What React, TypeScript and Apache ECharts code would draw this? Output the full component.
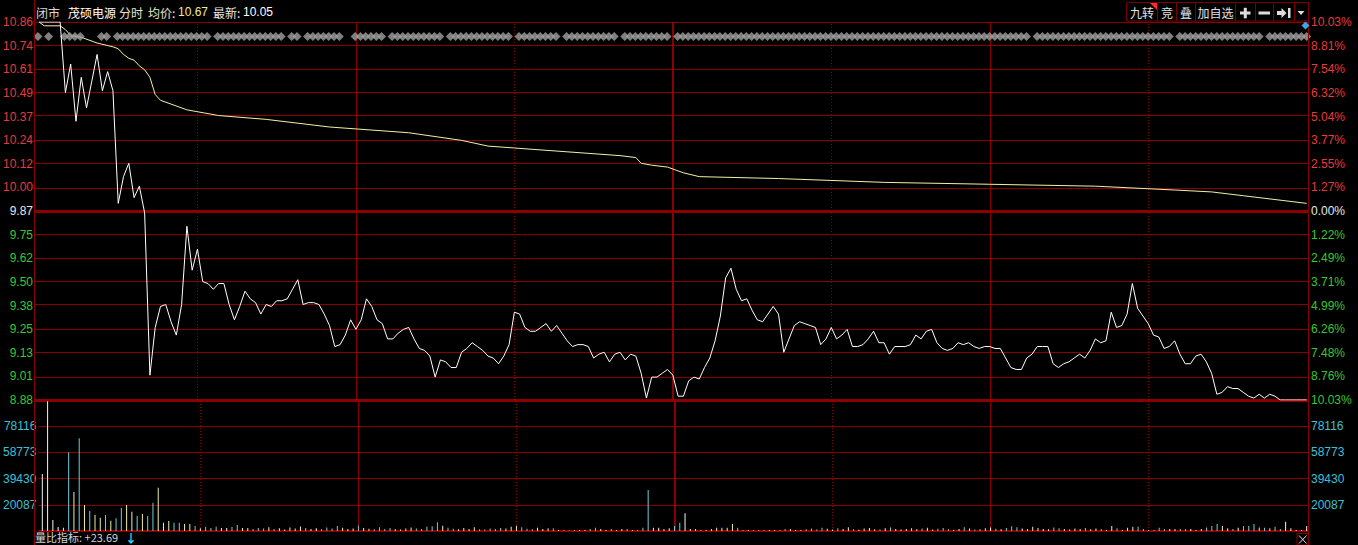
import React, { useEffect, useRef } from "react";
import * as echarts from "echarts";

// ---------------- data ----------------
const prevClose = 9.87;
const priceMin = 8.88;
const priceMax = 10.86;
const priceTickLabels = ["8.88", "9.01", "9.13", "9.25", "9.38", "9.50", "9.62", "9.75", "9.87", "10.00", "10.12", "10.24", "10.37", "10.49", "10.61", "10.74", "10.86"];
const pctTickLabels = ["10.03%", "8.76%", "7.48%", "6.26%", "4.99%", "3.71%", "2.49%", "1.22%", "0.00%", "1.27%", "2.55%", "3.77%", "5.04%", "6.32%", "7.54%", "8.81%", "10.03%"];
const volMin = 744;
const volMax = 97459;
const volTickValues = [20087, 39430, 58773, 78116];
const halfHourMarks = [30, 90, 150, 210];
const hourMarks = [60, 180];
const middayMark = 120;

const prices = [
  10.86, 10.86, 10.86, 10.86, 10.86, 10.49, 10.64, 10.34, 10.57, 10.41,
  10.55, 10.69, 10.5, 10.6, 10.5, 9.91, 10.05, 10.12, 9.94, 10.0,
  9.86, 9.01, 9.26, 9.37, 9.38, 9.29, 9.22, 9.38, 9.79, 9.56,
  9.67, 9.5, 9.49, 9.46, 9.49, 9.49, 9.38, 9.3, 9.37, 9.45,
  9.41, 9.39, 9.33, 9.38, 9.37, 9.4, 9.4, 9.41, 9.46, 9.51,
  9.38, 9.39, 9.39, 9.38, 9.33, 9.27, 9.16, 9.17, 9.22, 9.3,
  9.25, 9.3, 9.41, 9.37, 9.3, 9.28, 9.2, 9.2, 9.23, 9.25,
  9.26, 9.2, 9.15, 9.14, 9.11, 9.0, 9.09, 9.08, 9.05, 9.05,
  9.13, 9.15, 9.18, 9.16, 9.14, 9.11, 9.1, 9.07, 9.11, 9.17,
  9.34, 9.33, 9.26, 9.24, 9.24, 9.26, 9.28, 9.24, 9.27, 9.23,
  9.19, 9.16, 9.17, 9.17, 9.16, 9.1, 9.12, 9.13, 9.08, 9.12,
  9.13, 9.09, 9.12, 9.11, 9.02, 8.89, 9.0, 9.0, 9.02, 9.04,
  9.01, 8.9, 8.9, 8.98, 9.0, 8.99, 9.05, 9.1, 9.19, 9.32,
  9.52, 9.57, 9.46, 9.4, 9.41, 9.35, 9.3, 9.29, 9.33, 9.37,
  9.33, 9.13, 9.2, 9.27, 9.29, 9.28, 9.27, 9.26, 9.17, 9.2,
  9.26, 9.2, 9.22, 9.25, 9.16, 9.16, 9.17, 9.2, 9.24, 9.18,
  9.18, 9.12, 9.16, 9.16, 9.16, 9.17, 9.22, 9.2, 9.24, 9.25,
  9.18, 9.15, 9.14, 9.15, 9.18, 9.17, 9.18, 9.16, 9.15, 9.16,
  9.16, 9.15, 9.15, 9.1, 9.05, 9.04, 9.04, 9.1, 9.12, 9.16,
  9.16, 9.16, 9.07, 9.05, 9.07, 9.08, 9.1, 9.12, 9.1, 9.14,
  9.2, 9.18, 9.19, 9.34, 9.26, 9.27, 9.33, 9.49, 9.36, 9.32,
  9.28, 9.22, 9.21, 9.15, 9.16, 9.19, 9.12, 9.07, 9.07, 9.11,
  9.12, 9.08, 9.02, 8.91, 8.92, 8.95, 8.94, 8.94, 8.92, 8.9,
  8.89, 8.91, 8.89, 8.91, 8.9, 8.88, 8.88, 8.88, 8.88, 8.88,
  8.88,
];

const avgMinutes = [0, 1, 4, 5, 6, 8, 11, 14, 15, 16, 17, 18, 19, 20, 21, 22, 23, 25, 28, 34, 43, 55, 70, 80, 85, 90, 100, 110, 113, 114, 116, 119, 122, 125, 140, 160, 180, 200, 215, 222, 228, 234, 240];
const avgPrices = [10.86, 10.84, 10.84, 10.82, 10.79, 10.78, 10.75, 10.73, 10.72, 10.69, 10.67, 10.66, 10.63, 10.61, 10.57, 10.48, 10.45, 10.43, 10.4, 10.37, 10.35, 10.31, 10.28, 10.24, 10.21, 10.2, 10.18, 10.16, 10.15, 10.12, 10.11, 10.1, 10.07, 10.05, 10.04, 10.02, 10.01, 10.0, 9.98, 9.97, 9.95, 9.93, 9.91];

const volumes = [
  42800, 96500, 8900, 3700, 3200, 58900, 29500, 69200, 20000, 15500,
  12600, 10600, 12600, 8400, 10100, 18000, 19900, 15000, 11800, 13300,
  11800, 21600, 32700, 6900, 8100, 6900, 6900, 5900, 5900, 4400,
  2700, 3900, 3000, 3900, 3000, 3000, 3700, 5200, 3000, 3000,
  2200, 3000, 2500, 3600, 2200, 2800, 1900, 3300, 2600, 4100,
  3000, 2200, 2800, 2000, 3400, 2500, 4400, 3100, 2200, 2600,
  4800, 3000, 2400, 2100, 3600, 2200, 2900, 2000, 1800, 2500,
  3300, 2600, 2200, 3900, 4300, 7200, 4600, 3100, 2400, 2000,
  2900, 2300, 3500, 2100, 1900, 2600, 2200, 3000, 2500, 3800,
  4700, 3600, 2400, 2000, 3100, 2200, 2700, 2700, 1500, 1500,
  1200, 1500, 1500, 1500, 2200, 3200, 2200, 1500, 2200, 1500,
  2200, 2200, 1500, 1500, 3200, 31000, 3200, 3200, 2200, 2700,
  4400, 6900, 13800, 2200, 2200, 1500, 1500, 2200, 3200, 3200,
  3200, 5900, 3200, 1500, 1500, 1500, 1500, 1500, 1500, 1500,
  1500, 2200, 2200, 1500, 1500, 2000, 2600, 1800, 3200, 2400,
  1900, 2800, 2200, 3500, 2000, 1700, 2500, 3000, 2100, 1800,
  2700, 3400, 2200, 1900, 2300, 2800, 2000, 2600, 3100, 1800,
  2400, 2900, 2100, 1700, 2300, 3600, 2500, 1900, 2200, 2800,
  3300, 2400, 2000, 3000, 4200, 3500, 2600, 2200, 3800, 2900,
  2300, 2000, 3400, 2700, 2200, 1900, 2600, 2300, 3000, 2100,
  2500, 2200, 1500, 4400, 2700, 1500, 3200, 3900, 3900, 2200,
  1500, 1500, 3200, 2200, 2200, 2200, 2200, 2200, 2200, 1500,
  2200, 3400, 4400, 5900, 4400, 2700, 2200, 3200, 4400, 4400,
  5900, 3400, 3200, 2700, 3900, 2200, 7600, 2700, 1500, 1500,
  4400,
];

const diamondMinutes = [
  0, 2, 5, 6, 7, 8, 12, 13, 15, 16, 17, 18, 19, 20, 21, 22, 23, 24, 25, 26, 27, 28, 29, 30, 31, 32,
  34, 35, 36, 37, 38, 39, 40, 41, 42, 43, 44, 45, 46, 48, 49, 51, 52, 53, 54, 55, 56, 57,
  60, 61, 62, 63, 64, 65, 67, 68, 69, 70, 71, 72, 73, 74, 75, 76, 78, 79, 80, 81, 82, 83, 84, 85, 86, 87, 88, 89,
  91, 92, 93, 94, 95, 96, 97, 98, 100, 101, 102, 103, 104, 105, 106, 107, 108, 109, 111, 112, 113, 114, 115, 116, 117, 118, 119,
  121, 122, 123, 124, 125, 126, 127, 128, 129, 130, 131, 132, 133, 134, 135, 136, 137, 138, 139, 140, 141, 142, 143, 144, 145,
  146, 147, 148, 149, 150, 151, 152, 153, 154, 155, 156, 157, 158, 159, 160, 161, 162, 163, 164, 165, 166, 167, 168, 169, 170,
  171, 172, 173, 174, 175, 176, 177, 178, 179, 180, 181, 182, 183, 184, 185, 186, 187, 189, 190, 191, 192, 193, 194, 195, 196,
  197, 198, 199, 200, 201, 202, 203, 204, 205, 206, 207, 208, 209, 210, 211, 212, 213, 214, 216, 217, 218, 219, 220, 221, 222,
  223, 224, 225, 226, 227, 228, 229, 230, 231, 233, 234, 235, 236, 237, 238, 239, 240,
];

const headerTexts = ["闭市", "茂硕电源", "分时", "均价:", "10.67", "最新:", "10.05"];
const buttonLabels = ["九转", "竞", "叠", "加自选"];
const footerLabel = "量比指标: +23.69";
const footerArrow = "↓";

// ---------------- style ----------------
const RED = "#e83a3a";
const GREEN = "#34c834";
const WHITE = "#e8e8e8";
const CYAN = "#3cc0d6";
const GRID = "#880000";
const GRID_THICK = "#8c0000";
const FONT = '"Liberation Sans", Arial, "Noto Sans CJK SC", sans-serif';
const CJK = '"Noto Sans CJK SC", "Liberation Sans", sans-serif';

const X_MIN = -0.75;
const X_MAX = 240.25;
const GL = 34;
const GR = 50;

export default function App() {
  const ref = useRef<HTMLDivElement>(null);

  useEffect(() => {
    document.body.style.margin = "0";
    document.body.style.background = "#000";
    const chart = echarts.init(ref.current!, null, { renderer: "svg" });

    const step = (priceMax - priceMin) / 16;
    const priceTickValues = priceTickLabels.map((_, k) => priceMin + k * step);
    const idx = (v: any) => Math.round((Number(v) - priceMin) / step);
    const sideColor = (k: number) => (k < 8 ? GREEN : k > 8 ? RED : WHITE);

    const priceData = prices.map((p, i) => [i, p]);
    const avgData = avgMinutes.map((m, j) => [m, avgPrices[j]]);
    const barData = volumes.map((v, i) => {
      let c = "#f4f4f4";
      if (i > 0 && prices[i] > prices[i - 1]) c = "#eeeea4";
      else if (i > 0 && prices[i] < prices[i - 1]) c = "#6ccfdc";
      return { value: [i, v], itemStyle: { color: c } };
    });

    const vLines = [
      ...halfHourMarks.map((m) => ({ xAxis: m, lineStyle: { color: GRID, width: 1, type: [1, 2] } })),
      ...hourMarks.map((m) => ({ xAxis: m, lineStyle: { color: GRID, width: 1, type: "solid" } })),
      { xAxis: middayMark, lineStyle: { color: GRID_THICK, width: 2, type: "solid" } },
    ];

    const priceLines = priceTickValues.map((v, k) => ({
      yAxis: v,
      lineStyle: { color: k === 0 || k === 8 ? GRID_THICK : GRID, width: k === 0 || k === 8 ? 3 : 1, type: "solid" },
    }));
    const volLines = [
      ...volTickValues.map((v) => ({ yAxis: v, lineStyle: { color: GRID, width: 1, type: "solid" } })),
      { yAxis: volMin, lineStyle: { color: GRID_THICK, width: 2, type: "solid" } },
    ];

    const markBase = {
      silent: true,
      z: 1,
      symbol: ["none", "none"],
      label: { show: false },
      emphasis: { disabled: true },
      animation: false,
    };

    const xAxisBase = { type: "value", min: X_MIN, max: X_MAX, show: false };
    const labelBase = { fontSize: 12, fontFamily: FONT };

    const graphic: any[] = [];
    // borders
    graphic.push({ type: "line", shape: { x1: 34.5, y1: 0, x2: 34.5, y2: 545 }, style: { stroke: GRID, lineWidth: 1 }, z: 10 });
    graphic.push({ type: "line", shape: { x1: 1308.5, y1: 2, x2: 1308.5, y2: 545 }, style: { stroke: GRID, lineWidth: 1 }, z: 10 });

    // header
    const headerX = [36, 68, 119, 148, 178, 213, 243];
    const headerColors = ["#d8d8d8", "#ffffff", "#e6e6c8", "#e6e6d2", "#ecec9a", "#e8e8e8", "#ffffff"];
    headerTexts.forEach((t, j) => {
      graphic.push({
        type: "text",
        x: headerX[j],
        y: 12,
        z: 20,
        style: { text: t, fill: headerColors[j], font: `12px ${/[0-9]/.test(t) ? FONT : CJK}`, textVerticalAlign: "middle", verticalAlign: "middle" },
      });
    });

    // buttons
    const btnBoxes = [
      [1126, 31], [1157, 19], [1176, 19], [1195, 40], [1235, 20], [1255, 18], [1273, 21], [1294, 14],
    ];
    btnBoxes.forEach(([bx, bw]) => {
      graphic.push({ type: "rect", shape: { x: bx + 0.5, y: 2.5, width: bw, height: 18.5 }, style: { fill: "#000", stroke: "#7a0000", lineWidth: 1 }, z: 15 });
    });
    buttonLabels.forEach((t, j) => {
      const [bx, bw] = btnBoxes[j];
      graphic.push({
        type: "text",
        x: bx + bw / 2 + 0.5,
        y: 12,
        z: 20,
        style: { text: t, fill: "#e0e0e0", font: `12px ${CJK}`, textAlign: "center", align: "center", textVerticalAlign: "middle", verticalAlign: "middle" },
      });
    });
    // red corner triangle on first button
    graphic.push({ type: "polygon", shape: { points: [[1150, 3], [1157, 3], [1157, 10]] }, style: { fill: "#ff2a2a" }, z: 21 });
    // plus
    graphic.push({ type: "rect", shape: { x: 1240, y: 11.5, width: 10.5, height: 3 }, style: { fill: "#dcdcdc" }, z: 21 });
    graphic.push({ type: "rect", shape: { x: 1243.8, y: 7.8, width: 3, height: 10.5 }, style: { fill: "#dcdcdc" }, z: 21 });
    // minus
    graphic.push({ type: "rect", shape: { x: 1258.5, y: 11.5, width: 11.5, height: 3 }, style: { fill: "#dcdcdc" }, z: 21 });
    // arrow to end
    graphic.push({ type: "polygon", shape: { points: [[1277, 11], [1281.5, 11], [1281.5, 8], [1286.5, 13], [1281.5, 18], [1281.5, 15], [1277, 15]] }, style: { fill: "#dcdcdc" }, z: 21 });
    graphic.push({ type: "rect", shape: { x: 1288, y: 8, width: 2.5, height: 10 }, style: { fill: "#dcdcdc" }, z: 21 });
    // dropdown triangle
    graphic.push({ type: "polygon", shape: { points: [[1297.5, 11], [1304.5, 11], [1301, 15]] }, style: { fill: "#dcdcdc" }, z: 21 });
    // blue diamond
    graphic.push({ type: "polygon", shape: { points: [[1305.5, 21.5], [1309.5, 25.5], [1305.5, 29.5], [1301.5, 25.5]] }, style: { fill: "#38a8e6" }, z: 21 });

    // footer
    graphic.push({
      type: "text", x: 35, y: 537, z: 20,
      style: { text: footerLabel, fill: "#d4d4d4", font: `11px ${CJK}`, textVerticalAlign: "middle", verticalAlign: "middle" },
    });
    graphic.push({
      type: "text", x: 125, y: 537, z: 20,
      style: { text: footerArrow, fill: "#40d0e4", font: `bold 12px ${CJK}`, textVerticalAlign: "middle", verticalAlign: "middle" },
    });
    // close box
    graphic.push({ type: "rect", shape: { x: 1297, y: 533.5, width: 11, height: 11.5 }, style: { fill: "#000", stroke: GRID, lineWidth: 1 }, z: 15 });
    graphic.push({ type: "line", shape: { x1: 1299, y1: 535.5, x2: 1306.5, y2: 543.5 }, style: { stroke: "#e0e0e0", lineWidth: 1 }, z: 21 });
    graphic.push({ type: "line", shape: { x1: 1306.5, y1: 535.5, x2: 1299, y2: 543.5 }, style: { stroke: "#e0e0e0", lineWidth: 1 }, z: 21 });

    const option: any = {
      animation: false,
      backgroundColor: "#000000",
      grid: [
        { left: GL, right: GR, top: 22, height: 378 },
        { left: GL, right: GR, top: 400, height: 131 },
        { left: GL, right: GR, top: 32, height: 9 },
      ],
      xAxis: [
        { ...xAxisBase, gridIndex: 0 },
        { ...xAxisBase, gridIndex: 1 },
        { ...xAxisBase, gridIndex: 2 },
      ],
      yAxis: [
        {
          gridIndex: 0, type: "value", position: "left", min: priceMin, max: priceMax,
          axisLine: { show: false }, splitLine: { show: false },
          axisTick: { show: false, customValues: priceTickValues },
          axisLabel: {
            ...labelBase, margin: 2, customValues: priceTickValues,
            formatter: (v: any) => priceTickLabels[idx(v)] ?? "",
            color: (v: any) => sideColor(idx(v)),
          },
        },
        {
          gridIndex: 0, type: "value", position: "right", min: priceMin, max: priceMax,
          axisLine: { show: false }, splitLine: { show: false },
          axisTick: { show: false, customValues: priceTickValues },
          axisLabel: {
            ...labelBase, margin: 3, customValues: priceTickValues,
            formatter: (v: any) => pctTickLabels[idx(v)] ?? "",
            color: (v: any) => sideColor(idx(v)),
          },
        },
        {
          gridIndex: 1, type: "value", position: "left", min: volMin, max: volMax,
          axisLine: { show: false }, splitLine: { show: false },
          axisTick: { show: false, customValues: volTickValues },
          axisLabel: { ...labelBase, margin: 2, color: CYAN, customValues: volTickValues, formatter: (v: any) => String(Math.round(Number(v))) },
        },
        {
          gridIndex: 1, type: "value", position: "right", min: volMin, max: volMax,
          axisLine: { show: false }, splitLine: { show: false },
          axisTick: { show: false, customValues: volTickValues },
          axisLabel: { ...labelBase, margin: 3, color: CYAN, customValues: volTickValues, formatter: (v: any) => String(Math.round(Number(v))) },
        },
        { gridIndex: 2, type: "value", min: -1, max: 1, show: false },
      ],
      series: [
        {
          name: "priceGrid", type: "line", xAxisIndex: 0, yAxisIndex: 0, data: priceData,
          symbol: "none", lineStyle: { opacity: 0 }, silent: true, z: 1,
          markLine: { ...markBase, data: [...priceLines, ...vLines] },
        },
        {
          name: "volGrid", type: "line", xAxisIndex: 1, yAxisIndex: 2, data: volumes.map((v, i) => [i, v]),
          symbol: "none", lineStyle: { opacity: 0 }, silent: true, z: 1,
          markLine: { ...markBase, data: [...volLines, ...vLines] },
        },
        {
          name: "均价", type: "line", xAxisIndex: 0, yAxisIndex: 0, data: avgData,
          symbol: "none", lineStyle: { color: "#f0f0a6", width: 1 }, z: 3, silent: true,
        },
        {
          name: "价格", type: "line", xAxisIndex: 0, yAxisIndex: 0, data: priceData,
          symbol: "none", lineStyle: { color: "#ffffff", width: 1 }, z: 4, silent: true,
        },
        {
          name: "成交量", type: "bar", xAxisIndex: 1, yAxisIndex: 2, data: barData,
          barWidth: 1, z: 3, silent: true, clip: true,
        },
        {
          name: "标记", type: "scatter", xAxisIndex: 2, yAxisIndex: 4,
          data: diamondMinutes.map((m) => [m, 0]),
          symbol: "diamond", symbolSize: [9, 9], itemStyle: { color: "#a0a0a0" }, z: 3, silent: true,
        },
      ],
      graphic,
    };

    chart.setOption(option);
    return () => chart.dispose();
  }, []);

  return <div ref={ref} style={{ position: "fixed", left: 0, top: 0, width: 1358, height: 545 }} />;
}
